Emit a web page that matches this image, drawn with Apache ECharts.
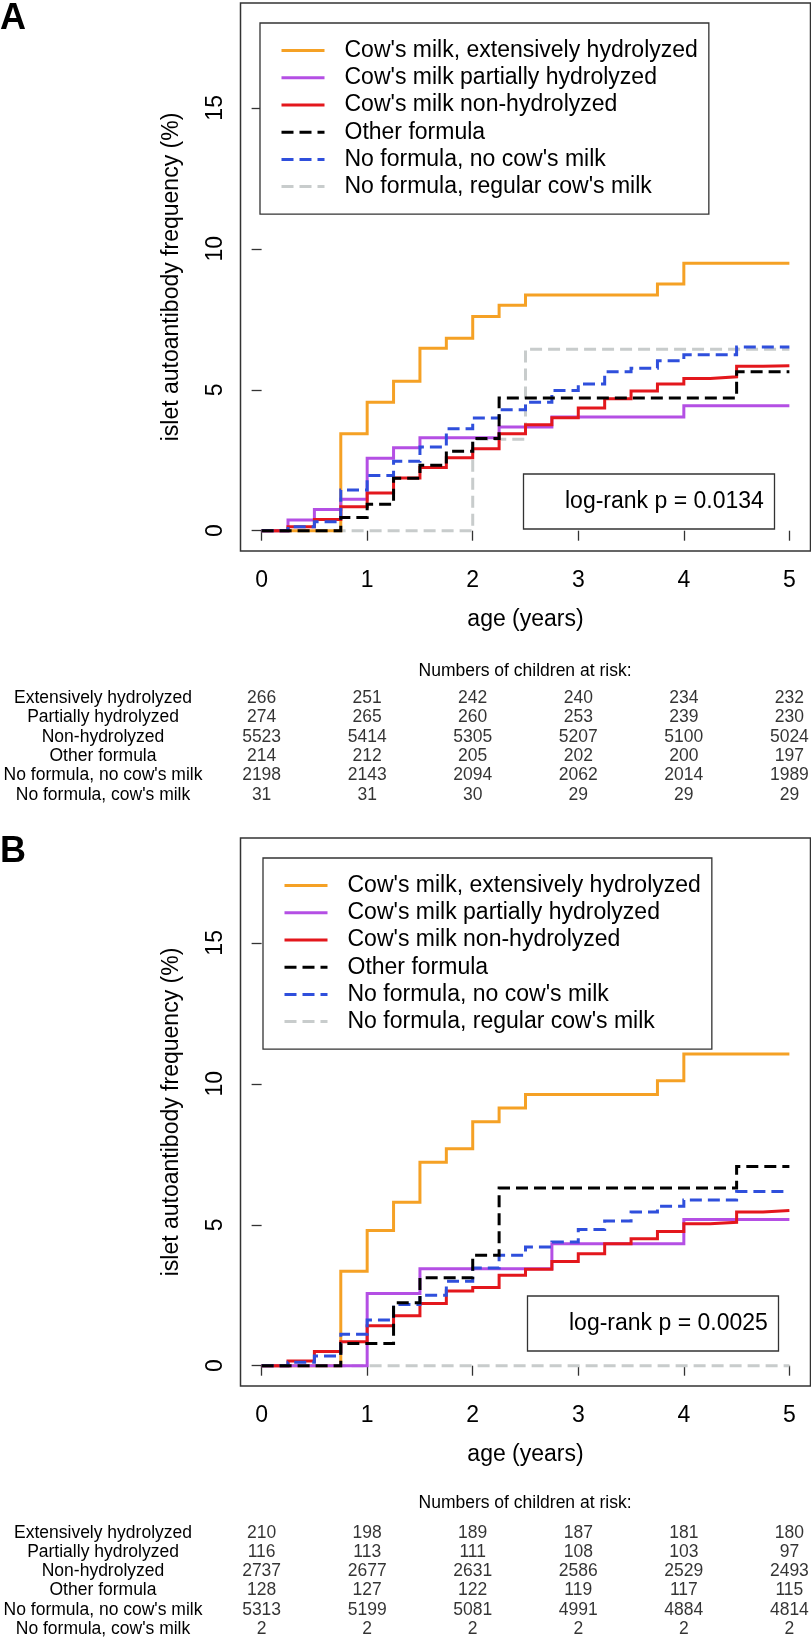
<!DOCTYPE html>
<html>
<head>
<meta charset="utf-8">
<script src="https://cdn.jsdelivr.net/npm/echarts@6/dist/echarts.min.js"></script>
<style>
html,body{margin:0;padding:0;background:#fff;}
#chart{width:811px;height:1639px;}
</style>
</head>
<body>
<div id="chart"></div>
<script>
// ---------- data ----------
const seriesNames = ["Cow's milk, extensively hydrolyzed", "Cow's milk partially hydrolyzed", "Cow's milk non-hydrolyzed", "Other formula", "No formula, no cow's milk", "No formula, regular cow's milk"];
const rowLabels = ["Extensively hydrolyzed", "Partially hydrolyzed", "Non-hydrolyzed", "Other formula", "No formula, no cow's milk", "No formula, cow's milk"];
const xTicks = [0, 1, 2, 3, 4, 5];
const yTicks = [0, 5, 10, 15];
const pValueA = "log-rank p = 0.0134";
const pValueB = "log-rank p = 0.0025";

// Panel A step curves (time in years, cumulative %)
const A_ext_t = [0, 0.75, 1, 1.25, 1.5, 1.75, 2, 2.25, 2.5, 3.75, 4, 5];
const A_ext_v = [0, 3.44, 4.56, 5.30, 6.47, 6.83, 7.60, 8.00, 8.36, 8.75, 9.49, 9.49];
const A_part_t = [0, 0.25, 0.5, 0.75, 1, 1.25, 1.5, 2.25, 2.75, 4, 5];
const A_part_v = [0, 0.38, 0.75, 1.12, 2.57, 2.94, 3.30, 3.68, 4.03, 4.43, 4.43];
const A_non_t = [0, 0.25, 0.5, 0.75, 1, 1.25, 1.5, 1.75, 2, 2.25, 2.5, 2.75, 3, 3.25, 3.5, 3.75, 4, 4.25, 4.5, 4.75, 5];
const A_non_v = [0, 0.14, 0.40, 0.85, 1.34, 1.87, 2.24, 2.59, 2.91, 3.44, 3.76, 4.01, 4.35, 4.68, 4.96, 5.20, 5.40, 5.46, 5.83, 5.85, 5.85];
const A_other_t = [0, 0.75, 1, 1.25, 1.5, 1.75, 2, 2.25, 4.5, 5];
const A_other_v = [0, 0.47, 0.94, 1.86, 2.32, 2.82, 3.27, 4.71, 5.64, 5.64];
const A_none_t = [0, 0.25, 0.5, 0.75, 1, 1.25, 1.5, 1.75, 2, 2.25, 2.5, 2.75, 3, 3.25, 3.5, 3.75, 4, 4.5, 5];
const A_none_v = [0, 0.14, 0.32, 1.44, 1.96, 2.46, 2.97, 3.62, 4.00, 4.29, 4.56, 4.97, 5.20, 5.64, 5.76, 6.03, 6.24, 6.52, 6.52];
const A_reg_t = [0, 2, 2.5, 5];
const A_reg_v = [0, 3.24, 6.44, 6.44];

// Panel B step curves
const B_ext_t = [0, 0.75, 1, 1.25, 1.5, 1.75, 2, 2.25, 2.5, 3.75, 4, 5];
const B_ext_v = [0, 3.35, 4.80, 5.80, 7.22, 7.70, 8.65, 9.14, 9.62, 10.11, 11.06, 11.06];
const B_part_t = [0, 1, 1.5, 2.75, 4, 5];
const B_part_v = [0, 2.56, 3.44, 4.33, 5.19, 5.19];
const B_non_t = [0, 0.25, 0.5, 0.75, 1, 1.25, 1.5, 1.75, 2, 2.25, 2.5, 2.75, 3, 3.25, 3.5, 3.75, 4, 4.25, 4.5, 4.75, 5];
const B_non_v = [0, 0.17, 0.50, 0.85, 1.42, 1.77, 2.21, 2.65, 2.77, 3.21, 3.42, 3.70, 3.97, 4.33, 4.50, 4.76, 5.04, 5.09, 5.45, 5.51, 5.51];
const B_other_t = [0, 0.75, 1.25, 1.5, 2, 2.25, 4.5, 5];
const B_other_v = [0, 0.79, 2.23, 3.12, 3.92, 6.30, 7.07, 7.07];
const B_none_t = [0, 0.25, 0.5, 0.75, 1, 1.25, 1.5, 1.75, 2, 2.25, 2.5, 2.75, 3, 3.25, 3.5, 3.75, 4, 4.5, 5];
const B_none_v = [0, 0.12, 0.34, 1.12, 1.62, 2.17, 2.50, 3.00, 3.47, 3.92, 4.21, 4.39, 4.83, 5.13, 5.45, 5.66, 5.88, 6.18, 6.18];
const B_reg_t = [0, 5];
const B_reg_v = [0, 0];

// Numbers at risk
const A_risk_ext = [266, 251, 242, 240, 234, 232];
const A_risk_part = [274, 265, 260, 253, 239, 230];
const A_risk_non = [5523, 5414, 5305, 5207, 5100, 5024];
const A_risk_other = [214, 212, 205, 202, 200, 197];
const A_risk_none = [2198, 2143, 2094, 2062, 2014, 1989];
const A_risk_reg = [31, 31, 30, 29, 29, 29];
const B_risk_ext = [210, 198, 189, 187, 181, 180];
const B_risk_part = [116, 113, 111, 108, 103, 97];
const B_risk_non = [2737, 2677, 2631, 2586, 2529, 2493];
const B_risk_other = [128, 127, 122, 119, 117, 115];
const B_risk_none = [5313, 5199, 5081, 4991, 4884, 4814];
const B_risk_reg = [2, 2, 2, 2, 2, 2];

// ---------- styles ----------
const FONT = '"Liberation Sans", Arial, Helvetica, sans-serif';
const colors = ['#F5A125', '#B44FE4', '#E3171C', '#000000', '#2F4FDC', '#C8CCCC'];
const dashed = [false, false, false, true, true, true];
const DASH = [12, 6];
const drawOrder = [5, 0, 1, 2, 4, 3]; // grey first, black last

const curvesA = [[A_ext_t, A_ext_v], [A_part_t, A_part_v], [A_non_t, A_non_v], [A_other_t, A_other_v], [A_none_t, A_none_v], [A_reg_t, A_reg_v]];
const curvesB = [[B_ext_t, B_ext_v], [B_part_t, B_part_v], [B_non_t, B_non_v], [B_other_t, B_other_v], [B_none_t, B_none_v], [B_reg_t, B_reg_v]];
const riskA = [A_risk_ext, A_risk_part, A_risk_non, A_risk_other, A_risk_none, A_risk_reg];
const riskB = [B_risk_ext, B_risk_part, B_risk_non, B_risk_other, B_risk_none, B_risk_reg];

const PLOT_LEFT = 240.5, PLOT_W = 570, PLOT_H = 548;
const panelTop = [3, 838];
const tableTop = [688.3, 1523.4];
const tableH = [116.4, 115.2];

const grids = [], xAxes = [], yAxes = [], series = [];

function plotAxes(p) {
  grids.push({left: PLOT_LEFT, top: panelTop[p], width: PLOT_W, height: PLOT_H, show: true,
    borderColor: '#333', borderWidth: 1.5, backgroundColor: 'transparent', containLabel: false, outerBoundsMode: 'none'});
  xAxes.push({type: 'value', gridIndex: grids.length - 1, min: -0.2, max: 5.2,
    axisLine: {show: false}, splitLine: {show: false},
    axisTick: {show: true, length: 10, customValues: xTicks, lineStyle: {color: '#333', width: 1.3}},
    axisLabel: {show: true, customValues: xTicks, margin: 18.5, fontSize: 23, lineHeight: 23, color: '#000', fontFamily: FONT},
    name: 'age (years)', nameLocation: 'middle', nameGap: 57,
    nameTextStyle: {fontSize: 23, lineHeight: 24, color: '#000', fontFamily: FONT}});
  yAxes.push({type: 'value', gridIndex: grids.length - 1, min: -0.72, max: 18.72,
    axisLine: {show: false}, splitLine: {show: false},
    axisTick: {show: true, length: 10, customValues: yTicks, lineStyle: {color: '#333', width: 1.3}},
    axisLabel: {show: true, customValues: yTicks, rotate: 90, margin: 13, fontSize: 23, lineHeight: 23, color: '#000', fontFamily: FONT},
    name: 'islet autoantibody frequency (%)', nameLocation: 'middle', nameGap: 57,
    nameTextStyle: {fontSize: 23, lineHeight: 24, color: '#000', fontFamily: FONT}});
}

function tableAxes(p) {
  grids.push({left: PLOT_LEFT, top: tableTop[p], width: PLOT_W, height: tableH[p], show: false, containLabel: false, outerBoundsMode: 'none'});
  xAxes.push({type: 'value', gridIndex: grids.length - 1, min: -0.2, max: 5.2, show: false});
  yAxes.push({type: 'category', gridIndex: grids.length - 1, data: rowLabels, inverse: true,
    axisLine: {show: false}, axisTick: {show: false}, splitLine: {show: false},
    axisLabel: {show: true, interval: 0, align: 'center', margin: 137.5, fontSize: 17.5, color: '#000', fontFamily: FONT}});
}

function addCurves(p, curves) {
  const axisIdx = p * 2;
  drawOrder.forEach(k => {
    const [t, v] = curves[k];
    series.push({type: 'line', name: seriesNames[k], xAxisIndex: axisIdx, yAxisIndex: axisIdx,
      step: 'end', symbol: 'none', showSymbol: false, silent: true, animation: false,
      data: t.map((x, i) => [x, v[i]]),
      lineStyle: {color: colors[k], width: 3, type: dashed[k] ? DASH : 'solid', cap: 'butt', join: 'miter'},
      itemStyle: {color: colors[k]}, z: 2 + drawOrder.indexOf(k) * 0.01});
  });
}

function addTable(p, risk) {
  const axisIdx = p * 2 + 1;
  const data = [];
  risk.forEach((row, r) => row.forEach((n, c) => data.push([xTicks[c], r, n])));
  series.push({type: 'scatter', xAxisIndex: axisIdx, yAxisIndex: axisIdx, silent: true, animation: false,
    symbolSize: 1, itemStyle: {color: 'rgba(0,0,0,0)'},
    label: {show: true, position: 'inside', formatter: d => String(d.value[2]), fontSize: 17.5, color: '#000', fontFamily: FONT},
    data: data});
}

plotAxes(0); tableAxes(0); plotAxes(1); tableAxes(1);
addCurves(0, curvesA); addTable(0, riskA);
addCurves(1, curvesB); addTable(1, riskB);

function legendAt(left, top) {
  return {data: seriesNames, left: left, top: top, orient: 'vertical', selectedMode: false,
    backgroundColor: '#fff', borderColor: '#333', borderWidth: 1.3, padding: [14, 11, 14, 20],
    itemGap: 0, itemWidth: 43, itemHeight: 2,
    itemStyle: {opacity: 0},
    lineStyle: {width: 3},
    formatter: n => '{sp| }' + n,
    textStyle: {fontSize: 23, lineHeight: 27.2, color: '#000', fontFamily: FONT,
      rich: {sp: {width: 15, fontSize: 23, lineHeight: 27.2}}}};
}

function pBox(text, left, top) {
  return {text: text, left: left, top: top, padding: [14.5, 11, 14.5, 42],
    borderColor: '#333', borderWidth: 1.3, backgroundColor: '#fff',
    textStyle: {fontSize: 23, lineHeight: 26, fontWeight: 'normal', color: '#000', fontFamily: FONT}};
}

const option = {
  backgroundColor: '#fff',
  animation: false,
  title: [
    {text: 'A', left: 0, top: 1, padding: 0, textStyle: {fontSize: 36, fontWeight: 'bold', color: '#000', fontFamily: FONT}},
    {text: 'B', left: 0, top: 834, padding: 0, textStyle: {fontSize: 36, fontWeight: 'bold', color: '#000', fontFamily: FONT}},
    pBox(pValueA, 523, 474),
    pBox(pValueB, 527, 1296),
    {text: 'Numbers of children at risk:', left: 525, textAlign: 'center', top: 661, padding: 0,
      textStyle: {fontSize: 17.5, lineHeight: 20, fontWeight: 'normal', color: '#000', fontFamily: FONT}},
    {text: 'Numbers of children at risk:', left: 525, textAlign: 'center', top: 1493, padding: 0,
      textStyle: {fontSize: 17.5, lineHeight: 20, fontWeight: 'normal', color: '#000', fontFamily: FONT}}
  ],
  legend: [legendAt(260, 23), legendAt(263, 858)],
  grid: grids,
  xAxis: xAxes,
  yAxis: yAxes,
  series: series
};

const chart = echarts.init(document.getElementById('chart'), null, {renderer: 'canvas'});
chart.setOption(option);
</script>
</body>
</html>
